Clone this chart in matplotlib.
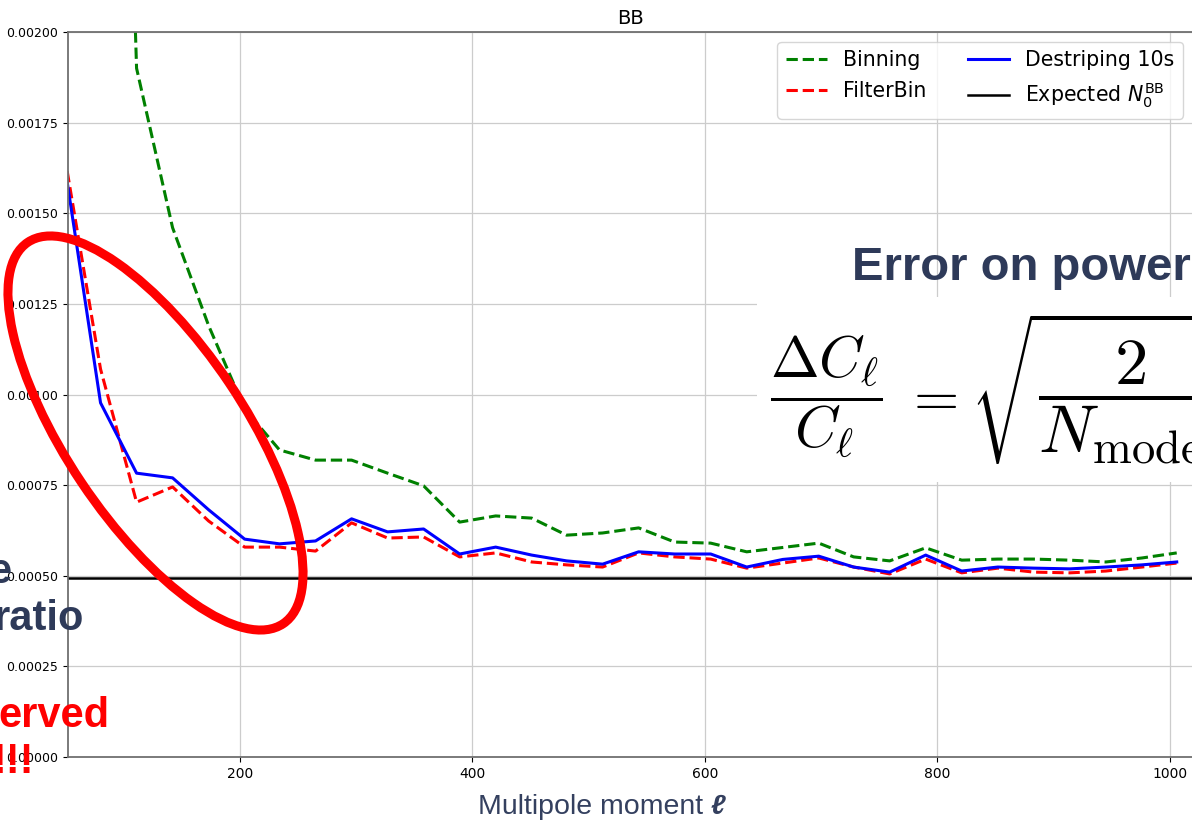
import matplotlib
matplotlib.use("Agg")
from matplotlib import pyplot as plt
from matplotlib.patches import Ellipse, Rectangle
from matplotlib.transforms import IdentityTransform

W, H = 1192, 821

ell = [49, 80, 111, 142, 173, 204, 234, 265, 296, 327, 358, 389, 420, 451, 481, 512,
       543, 574, 605, 636, 667, 698, 728, 759, 790, 821, 852, 883, 914, 945, 976, 1006]

binning = [0.0110, 0.0051, 0.00190, 0.00146, 0.00119, 0.00096, 0.000847, 0.000819,
           0.000819, 0.000783, 0.000748, 0.000648, 0.000665, 0.000659, 0.000612, 0.000618,
           0.000632, 0.000593, 0.000590, 0.000566, 0.000578, 0.000590, 0.000552, 0.000541,
           0.000577, 0.000543, 0.000546, 0.000546, 0.000543, 0.000538, 0.000549, 0.000563]

filterbin = [0.00166, 0.00107, 0.000703, 0.000745, 0.000651, 0.000579, 0.000579, 0.000568,
             0.000646, 0.000604, 0.000607, 0.000552, 0.000563, 0.000538, 0.000530, 0.000524,
             0.000563, 0.000552, 0.000546, 0.000521, 0.000535, 0.000549, 0.000524, 0.000505,
             0.000546, 0.000508, 0.000521, 0.000510, 0.000508, 0.000513, 0.000524, 0.000535]

destriping = [0.001635, 0.000977, 0.000783, 0.000770, 0.000682, 0.000601, 0.000588, 0.000596,
              0.000657, 0.000621, 0.000629, 0.000560, 0.000579, 0.000557, 0.000541, 0.000532,
              0.000566, 0.000560, 0.000560, 0.000524, 0.000545, 0.000554, 0.000524, 0.000510,
              0.000557, 0.000513, 0.000524, 0.000521, 0.000519, 0.000524, 0.000530, 0.000538]

n0_bb = 0.000493

yticks = [0.0, 0.00025, 0.0005, 0.00075, 0.001, 0.00125, 0.0015, 0.00175, 0.002]
xticks = [200, 400, 600, 800, 1000]

navy = '#2E3A59'


def fx(x):
    return x / W


def fy(y):
    return 1 - y / H


plt.rcParams['mathtext.fontset'] = 'cm'
fig = plt.figure(figsize=(W / 100, H / 100), dpi=100)
ax = fig.add_axes([fx(68), fy(757), (1193 - 68) / W, (757 - 32) / H])

ax.plot(ell, binning, '--', color='green', lw=2.2, label='Binning')
ax.plot(ell, filterbin, '--', color='red', lw=2.2, label='FilterBin')
ax.plot(ell, destriping, '-', color='blue', lw=2.2, label='Destriping 10s')
ax.axhline(n0_bb, color='black', lw=1.8, label=r'Expected $N_0^{\rm BB}$')

ax.set_xlim(52, 1020)
ax.set_ylim(0, 0.002)
ax.set_xticks(xticks)
ax.set_yticks(yticks)
ax.set_yticklabels(['%.5f' % v for v in yticks])
ax.tick_params(axis='y', labelsize=9)
ax.tick_params(axis='x', labelsize=10)
ax.grid(True, color='#cccccc', lw=0.9)
for s in ax.spines.values():
    s.set_color('#707070')
    s.set_linewidth(1.3)
ax.set_title('BB', fontsize=14)
ax.legend(loc='upper right', ncol=2, prop={'size': 14.8, 'math_fontfamily': 'dejavusans'})

# white box behind the formula
fig.patches.append(Rectangle((757, H - 482), 440, 185, transform=IdentityTransform(),
                             facecolor='white', edgecolor='none', zorder=2))

fig.text(fx(852), fy(280), 'Error on power', fontsize=34, fontweight='bold',
         family='Liberation Sans', color=navy, va='baseline', zorder=3)

# formula built from three pieces
fig.text(fx(826), fy(397), r'$\dfrac{\Delta C_\ell}{C_\ell}$',
         fontsize=42, ha='center', va='center', zorder=3)
fig.text(fx(930), fy(397), r'$=$', fontsize=42, ha='center', va='center', zorder=3)
fig.text(fx(970), fy(388), r'$\sqrt{\dfrac{2}{N_{\rm modes}}}$',
         fontsize=48, ha='left', va='center', zorder=3)

# slide overlays on the left
fig.text(fx(11), fy(583), 'e', fontsize=30, fontweight='bold', family='Liberation Sans',
         color=navy, ha='right', va='baseline')
fig.text(fx(84), fy(630), 'ratio', fontsize=30, fontweight='bold', family='Liberation Sans',
         color=navy, ha='right', va='baseline')
fig.text(fx(109), fy(727), 'erved', fontsize=30, fontweight='bold', family='Liberation Sans',
         color='red', ha='right', va='baseline')
fig.text(fx(34), fy(773), '!!!', fontsize=30, fontweight='bold', family='Liberation Sans',
         color='red', ha='right', va='baseline')

fig.patches.append(Ellipse((155.5, H - 433), 459, 178, angle=-56.2,
                           transform=IdentityTransform(), fill=False,
                           edgecolor='red', lw=6.5, zorder=4))

# axis label with a bold italic ell
lab = fig.text(fx(478), fy(814), 'Multipole moment ', fontsize=20.5, family='Liberation Sans',
               color='#34405F', va='baseline')
fig.canvas.draw()
bb = lab.get_window_extent()
fig.text(bb.x1 / W, fy(814), '\u2113', fontsize=20.5, family=['Liberation Sans', 'DejaVu Sans'],
         fontweight='bold', style='italic', color='#34405F', va='baseline')

fig.savefig('out.png', dpi=100)
